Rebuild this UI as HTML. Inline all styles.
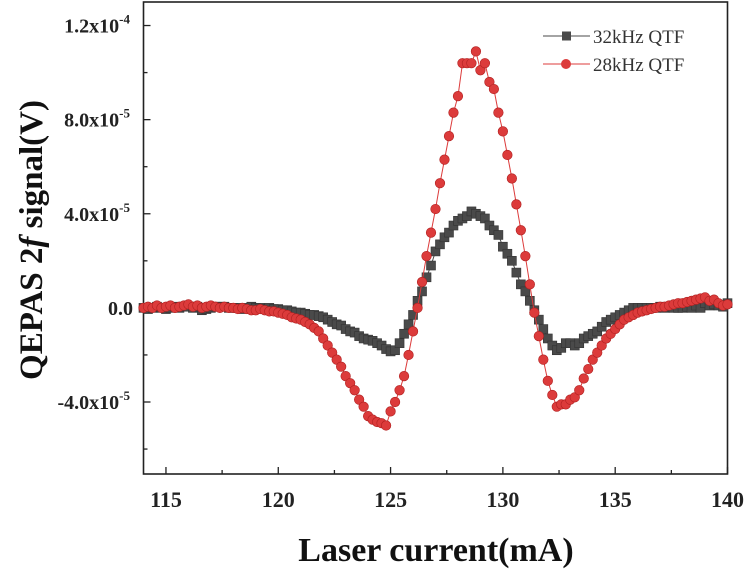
<!DOCTYPE html>
<html><head><meta charset="utf-8"><style>
html,body{margin:0;padding:0;background:#fff;}
svg{display:block;font-family:"Liberation Serif",serif;}
</style></head><body>
<svg id="chart" width="748" height="570" viewBox="0 0 748 570" xmlns="http://www.w3.org/2000/svg"></svg>
<script>
const xStart = 114.0, xStep = 0.2;
const xTicks = [115, 120, 125, 130, 135, 140];
const xTickLabels = ["115", "120", "125", "130", "135", "140"];
const yTicks = [-4, 0, 4, 8, 12];
const yTickLabels = ["-4.0x10", "0.0", "4.0x10", "8.0x10", "1.2x10"];
const yTickExp = ["-5", "", "-5", "-5", "-4"];
const seriesNames = ["32kHz QTF", "28kHz QTF"];
const blackVals = [0,-0.05,0,0.05,0,-0.05,0,0.05,0,0.05,0.05,0,0.05,-0.1,-0.05,0,0.05,0.05,0.05,0,0,0,-0.05,0,0.05,0,0,-0.05,0,-0.05,
-0.05,-0.1,-0.1,-0.15,-0.2,-0.2,-0.25,-0.3,-0.3,-0.35,
-0.4,-0.5,-0.6,-0.7,-0.75,-0.9,-1.0,-1.05,-1.2,-1.3,
-1.35,-1.4,-1.5,-1.6,-1.75,-1.85,-1.8,-1.5,-1.1,-0.7,
-0.3,0.3,0.7,1.3,1.8,2.4,2.7,3.0,3.2,3.5,
3.7,3.8,3.9,4.1,4.0,3.9,3.8,3.5,3.3,3.1,
2.6,2.3,2.0,1.5,1.0,0.7,0.3,-0.1,-0.5,-0.9,
-1.3,-1.6,-1.8,-1.7,-1.5,-1.5,-1.6,-1.5,-1.3,-1.2,
-1.1,-1.0,-0.8,-0.6,-0.5,-0.4,-0.3,-0.2,-0.1,0,
0,0,0,0,0,0.05,0,0.05,0,0,0,0.05,0,0.1,0,0.2,0.1,0.15,0.1,0.05,0.2];
const redVals = [0,0.05,0,0.1,0,0.05,0.1,0,0.05,0.1,0.15,0.05,0.1,0,0.05,0.1,0.05,0,0.05,0,0,-0.05,0,-0.05,-0.1,-0.1,-0.05,-0.1,-0.15,-0.15,
-0.2,-0.25,-0.3,-0.4,-0.45,-0.5,-0.6,-0.7,-0.85,-1.0,
-1.3,-1.6,-1.9,-2.2,-2.5,-2.9,-3.2,-3.5,-3.9,-4.2,
-4.6,-4.75,-4.85,-4.9,-5.0,-4.4,-4.0,-3.5,-2.9,-2.0,
-1.0,0.0,1.1,2.2,3.2,4.2,5.3,6.3,7.3,8.3,
9.0,10.4,10.4,10.4,10.9,10.1,10.4,9.6,9.3,8.3,
7.5,6.5,5.5,4.4,3.3,2.2,1.0,-0.2,-1.2,-2.2,
-3.1,-3.7,-4.2,-4.1,-4.1,-3.9,-3.8,-3.5,-3.0,-2.6,
-2.2,-1.9,-1.6,-1.3,-1.1,-0.9,-0.7,-0.5,-0.4,-0.3,
-0.2,-0.15,-0.1,-0.05,0,0.05,0.05,0.1,0.15,0.2,
0.2,0.25,0.3,0.35,0.4,0.45,0.3,0.35,0.2,0.1,0.15];

const L=143.5,R=727.5,T=2,B=474;
const xMin=114,xMax=140,yMin=-7.06,yMax=13.0;
const sx=v=>L+(v-xMin)/(xMax-xMin)*(R-L);
const sy=v=>B-(v-yMin)/(yMax-yMin)*(B-T);
const svg=document.getElementById('chart');
const NS='http://www.w3.org/2000/svg';
function mk(tag,attrs,parent){const e=document.createElementNS(NS,tag);for(const k in attrs)e.setAttribute(k,attrs[k]);(parent||svg).appendChild(e);return e;}

const frame=mk('rect',{x:L,y:T,width:R-L,height:B-T,fill:'none',stroke:'#222','stroke-width':1.6});



for(let v=115;v<=140;v+=2.5){
  const len=(v%5===0)?7:4;
  const t=mk('line',{x1:sx(v),x2:sx(v),y1:B,y2:B-len,stroke:'#222','stroke-width':1.3});
  
  
}
xTicks.forEach((v,i)=>{
  const t=mk('text',{x:sx(v),y:507,'text-anchor':'middle','font-size':22,'font-weight':'bold',fill:'#222'});
  t.textContent=xTickLabels[i];
  
  
});
for(let v=-6;v<=12;v+=2){
  const len=(v%4===0)?7:4;
  const t=mk('line',{x1:L,x2:L+len,y1:sy(v),y2:sy(v),stroke:'#222','stroke-width':1.3});
  
  
}
yTicks.forEach((v,i)=>{
  const t=mk('text',{x:yTickExp[i]?130:133,y:sy(v)+7,'text-anchor':'end','font-size':20,'font-weight':'bold',fill:'#222'});
  t.textContent=yTickLabels[i];
  if(yTickExp[i]){const s=mk('tspan',{dy:-9,'font-size':13},t);s.textContent=yTickExp[i];}
  
  
});

const xt=mk('text',{x:436,y:561,'text-anchor':'middle','font-size':34,'font-weight':'bold',fill:'#111'});
xt.textContent='Laser current(mA)';


const yt=mk('text',{x:0,y:0,'text-anchor':'middle','font-size':33,'font-weight':'bold',fill:'#111',transform:'translate(42,240) rotate(-90)'});
yt.textContent='QEPAS 2';
const yi=mk('tspan',{'font-style':'italic'},yt);yi.textContent='f';
const yr=mk('tspan',{},yt);yr.textContent=' signal(V)';



function drawSeries(vals,color,edge,shape,name){
  const g=mk('g',{});
  
  
  const pts=vals.map((v,i)=>sx(xStart+i*xStep).toFixed(1)+','+sy(v).toFixed(1)).join(' ');
  mk('polyline',{points:pts,fill:'none',stroke:color,'stroke-width':1},g);
  vals.forEach((v,i)=>{
    const x=sx(xStart+i*xStep),y=sy(v);
    let m;
    if(shape==='sq') m=mk('rect',{x:x-4.5,y:y-4.5,width:9,height:9,fill:color,stroke:edge,'stroke-width':0.6},g);
    else m=mk('circle',{cx:x,cy:y,r:4.8,fill:color,stroke:edge,'stroke-width':0.6},g);
    
    
  });
}
drawSeries(blackVals,'#4a4a4a','#333','sq','series-32khz');
drawSeries(redVals,'#dc3b3b','#b02020','ci','series-28khz');

const lg=mk('g',{});


[[36,'#4a4a4a','sq'],[64,'#dc3b3b','ci']].forEach((d,i)=>{
  const e=mk('g',{},lg);
  
  
  mk('line',{x1:543,x2:590,y1:d[0],y2:d[0],stroke:d[1],'stroke-width':1},e);
  if(d[2]==='sq') mk('rect',{x:562,y:d[0]-4.5,width:9,height:9,fill:d[1]},e);
  else mk('circle',{cx:566,cy:d[0],r:5,fill:d[1]},e);
  const t=mk('text',{x:593,y:d[0]+7,'font-size':19,fill:'#333'},e);
  t.textContent=seriesNames[i];
});
</script>
</body></html>
